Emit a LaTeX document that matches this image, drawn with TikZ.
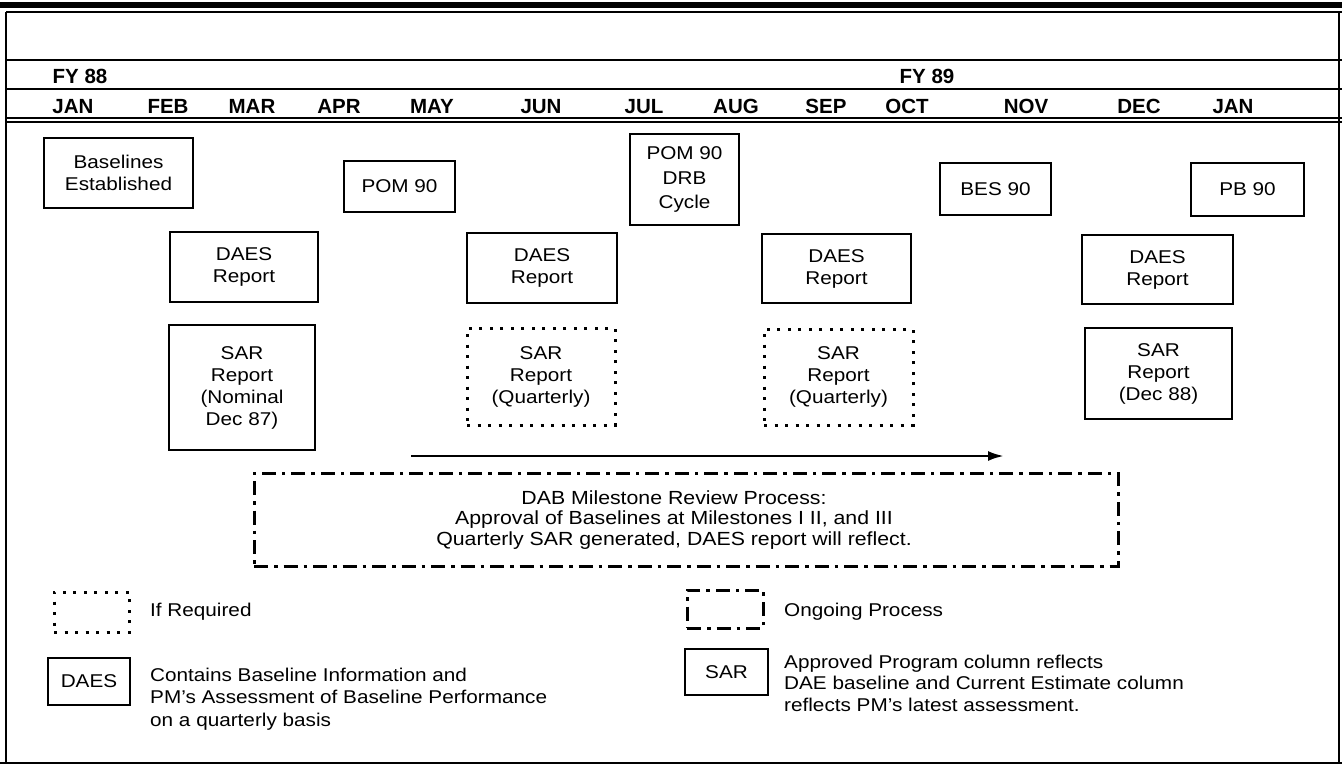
\documentclass[tikz,border=0pt]{standalone}
\usepackage{fontspec}
\setmainfont{Liberation Sans}[FakeStretch=1.12]
\newfontfamily\hdrfont{Liberation Sans}
\usetikzlibrary{arrows.meta}
\newcommand\myBody{\fontsize{18.5}{22}\selectfont}
\newcommand\myProc{\fontsize{19}{20.5}\selectfont}
\newcommand\myHdr{\hdrfont\bfseries\fontsize{20.5}{22}\selectfont}
\begin{document}
\begin{tikzpicture}[x=1pt,y=-1pt,
  solidbox/.style={draw, line width=1.8pt, inner sep=0pt, align=center, font=\myBody},
  ifbox/.style={draw, line width=3pt, dash pattern=on 3pt off 7.5pt, inner sep=0pt, align=center, font=\myBody},
  ongoing/.style={draw, line width=3pt, dash pattern=on 14pt off 6pt on 3.5pt off 6pt, inner sep=0pt},
  hdr/.style={inner sep=0pt, anchor=base, font=\myHdr},
  legtext/.style={inner sep=0pt, anchor=west, align=left, font=\myBody},
  rule/.style={line width=1.8pt}]
\useasboundingbox (0,0) rectangle (1342,769);
% frame and header rules
\fill (0,2) rectangle (1342,8);
\draw[rule] (6,12) -- (1342,12);
\draw[rule] (6,12) -- (6,763);
\draw[rule] (1339,12) -- (1339,763);
\draw[rule] (0,763) -- (1342,763);
\draw[rule] (6,60) -- (1342,60);
\draw[rule] (6,89) -- (1342,89);
\draw[line width=1.4pt] (6,118) -- (1342,118);
\draw[line width=1.4pt] (6,122) -- (1342,122);
% fiscal years
\node[hdr] (fy88) at (80,83) {FY 88};
\node[hdr] (fy89) at (927,83) {FY 89};
% months
\node[hdr] (m1) at (73,113) {JAN};
\node[hdr] (m2) at (168,113) {FEB};
\node[hdr] (m3) at (252,113) {MAR};
\node[hdr] (m4) at (339,113) {APR};
\node[hdr] (m5) at (432,113) {MAY};
\node[hdr] (m6) at (541,113) {JUN};
\node[hdr] (m7) at (644,113) {JUL};
\node[hdr] (m8) at (736,113) {AUG};
\node[hdr] (m9) at (826,113) {SEP};
\node[hdr] (m10) at (907,113) {OCT};
\node[hdr] (m11) at (1026,113) {NOV};
\node[hdr] (m12) at (1139,113) {DEC};
\node[hdr] (m13) at (1233,113) {JAN};
% top row boxes
\node[solidbox, minimum width=149pt, minimum height=70pt] (base) at (118.5,173) {Baselines\\Established};
\node[solidbox, minimum width=111pt, minimum height=51pt] (pom) at (399.5,186.5) {POM 90};
\node[solidbox, minimum width=109pt, minimum height=91pt, font=\fontsize{18.5}{24.5}\selectfont] (drb) at (684.5,179.5) {POM 90\\DRB\\Cycle};
\node[solidbox, minimum width=111pt, minimum height=52pt] (bes) at (995.5,189) {BES 90};
\node[solidbox, minimum width=113pt, minimum height=53pt] (pb) at (1247.5,189.5) {PB 90};
% DAES reports
\node[solidbox, minimum width=148pt, minimum height=70pt] (daes1) at (244,267) {DAES\\Report};
\node[solidbox, minimum width=150pt, minimum height=70pt] (daes2) at (542,268) {DAES\\Report};
\node[solidbox, minimum width=149pt, minimum height=69pt] (daes3) at (836.5,268.5) {DAES\\Report};
\node[solidbox, minimum width=151pt, minimum height=69pt] (daes4) at (1157.5,269.5) {DAES\\Report};
% SAR reports
\node[solidbox, minimum width=146pt, minimum height=125pt] (sar1) at (242,387.5) {SAR\\Report\\(Nominal\\Dec 87)};
\node[ifbox, minimum width=148pt, minimum height=97pt] (sar2) at (541,376.5) {SAR\\Report\\(Quarterly)};
\node[ifbox, minimum width=149pt, minimum height=96pt] (sar3) at (838.5,377) {SAR\\Report\\(Quarterly)};
\node[solidbox, minimum width=147pt, minimum height=91pt] (sar4) at (1158.5,373.5) {SAR\\Report\\(Dec 88)};
% ongoing process arrow and box
\coordinate (arrS) at (411,456);
\coordinate (arrE) at (1004,456);
\draw[line width=2.6pt, -{Latex[length=16pt,width=10pt]}] (arrS) -- (arrE);
\node[ongoing, minimum width=864pt, minimum height=93pt] (dab) at (686,519.5) {};
\node[inner sep=0pt, align=center, font=\myProc] (dabtext) at (674,520) {DAB Milestone Review Process:\\Approval of Baselines at Milestones I II, and III\\Quarterly SAR generated, DAES report will reflect.};
% legend
\node[ifbox, minimum width=75pt, minimum height=40pt] (legif) at (91.5,612) {};
\node[legtext] (legiftext) at (150,612) {If Required};
\node[solidbox, minimum width=82pt, minimum height=47pt] (legdaes) at (89,681.5) {DAES};
\node[legtext, font=\fontsize{18.5}{22.5}\selectfont] (legdaestext) at (150,699) {Contains Baseline Information and\\PM's Assessment of Baseline Performance\\on a quarterly basis};
\node[ongoing, minimum width=76pt, minimum height=38pt] (legong) at (725,609) {};
\node[legtext] (legongtext) at (784,612) {Ongoing Process};
\node[solidbox, minimum width=83pt, minimum height=46pt] (legsar) at (726.5,672) {SAR};
\node[legtext, font=\fontsize{18.5}{21.5}\selectfont] (legsartext) at (784,683) {Approved Program column reflects\\DAE baseline and Current Estimate column\\reflects PM's latest assessment.};
\end{tikzpicture}
\end{document}
